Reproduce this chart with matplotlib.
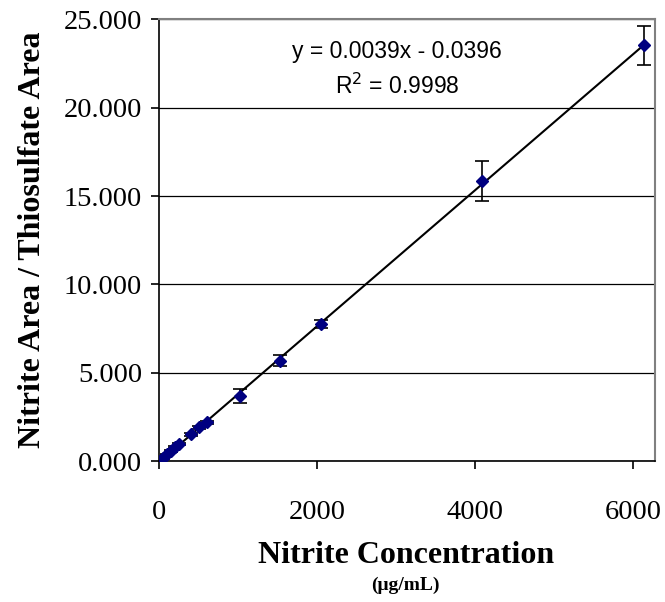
import matplotlib.pyplot as plt
import numpy as np

# nitrite concentration (ug/mL) and area ratio
conc = [10, 26, 51, 102, 154, 205, 256, 410, 512, 614, 1024, 1536, 2048, 4096, 6144]
ratio = [0.03, 0.08, 0.18, 0.38, 0.57, 0.78, 0.95, 1.53, 1.91, 2.19, 3.67, 5.68, 7.76, 15.87, 23.54]
err = [0.02, 0.03, 0.04, 0.05, 0.05, 0.06, 0.06, 0.08, 0.08, 0.09, 0.40, 0.32, 0.22, 1.13, 1.10]

yticks = [0, 5, 10, 15, 20, 25]
xticks = [0, 2000, 4000, 6000]

serif = 'Liberation Serif'
sans = 'Liberation Sans'

fig = plt.figure(figsize=(6.65, 6.02), dpi=100)
ax = fig.add_axes([0.239, 0.234, 0.746, 0.734])

# linear trendline over the data range
slope, icpt = np.polyfit(conc, ratio, 1)
xs = np.array([min(conc), max(conc)])
ax.plot(xs, slope * xs + icpt, color='black', lw=1.5, zorder=2)

ax.errorbar(conc, ratio, yerr=err, fmt='D', color='#000080', ms=6.5,
            ecolor='black', elinewidth=1.2, capsize=5, capthick=1.2, zorder=3)

ax.set_xlim(0, 6280)
ax.set_ylim(0, 25)
ax.set_xticks(xticks)
ax.set_yticks(yticks)
ax.set_yticklabels(['%.3f' % v for v in yticks])
ax.grid(axis='y', color='black', lw=0.9)
ax.set_axisbelow(True)

for s in ['top', 'right']:
    ax.spines[s].set_color('#808080')
    ax.spines[s].set_linewidth(1.5)
for s in ['left', 'bottom']:
    ax.spines[s].set_color('black')
    ax.spines[s].set_linewidth(1.2)

ax.tick_params(axis='both', direction='out', length=6, width=1.2, color='black',
               labelsize=20.5, pad=6)
for lab in ax.get_xticklabels() + ax.get_yticklabels():
    lab.set_family(serif)
ax.tick_params(axis='x', pad=22)

ax.set_ylabel('Nitrite Area / Thiosulfate Area', family=serif, fontsize=23,
              fontweight='bold', labelpad=12)
fig.text(0.61, 0.078, 'Nitrite Concentration', family=serif, fontsize=23,
         fontweight='bold', ha='center', va='center')
fig.text(0.61, 0.028, '(\u03bcg/mL)', family=serif, fontsize=14,
         fontweight='bold', ha='center', va='center')

ax.text(0.48, 0.928, 'y = 0.0039x - 0.0396', transform=ax.transAxes, family=sans,
        fontsize=16.5, ha='center', va='center')
ax.text(0.48, 0.848, 'R$^2$ = 0.9998', transform=ax.transAxes, family=sans,
        fontsize=16.5, ha='center', va='center')

fig.savefig('out.png', dpi=100)
